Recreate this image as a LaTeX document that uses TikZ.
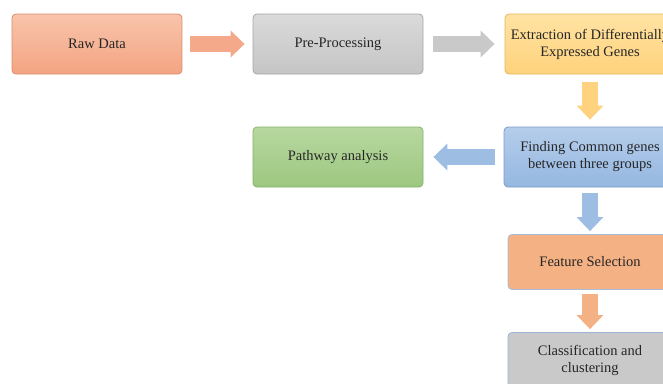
\documentclass[tikz,border=0pt]{standalone}
\usepackage{fontspec}
\setmainfont{Liberation Serif}
\usetikzlibrary{arrows.meta,calc}
\definecolor{txt}{HTML}{262626}
\definecolor{rawT}{HTML}{F8C4AB}\definecolor{rawB}{HTML}{F4A482}\definecolor{rawD}{HTML}{D98C6E}
\definecolor{preT}{HTML}{DADADA}\definecolor{preB}{HTML}{C5C5C5}\definecolor{preD}{HTML}{A6A6A6}
\definecolor{extT}{HTML}{FFE3A3}\definecolor{extB}{HTML}{FFD27C}\definecolor{extD}{HTML}{E0B860}
\definecolor{finT}{HTML}{B5CDEB}\definecolor{finB}{HTML}{95B7E0}\definecolor{finD}{HTML}{7C9CC8}
\definecolor{patT}{HTML}{B7D8A0}\definecolor{patB}{HTML}{9DC780}\definecolor{patD}{HTML}{85B26A}
\definecolor{feaF}{HTML}{F4B183}\definecolor{feaD}{HTML}{A9BCD8}
\definecolor{claF}{HTML}{C9C9C9}\definecolor{claD}{HTML}{9DB4D6}
\definecolor{arO}{HTML}{F4A98A}\definecolor{arG}{HTML}{C9C9C9}\definecolor{arY}{HTML}{FFD27F}
\definecolor{arB}{HTML}{9DBDE3}\definecolor{arF}{HTML}{F4B183}
\tikzset{
  box/.style={rectangle, rounded corners=4pt, line width=0.8pt, align=center,
    text=txt, font=\fontsize{14.5}{17}\selectfont, inner sep=2pt},
  blockarrow/.style={line width=16pt, -{Triangle[width=26pt,length=14pt]}, draw=#1},
}
\begin{document}
\begin{tikzpicture}[x=1pt,y=-1pt]
\useasboundingbox (0,0) rectangle (663,383);
\clip (0,0) rectangle (663,383);
\fill[white] (0,0) rectangle (663,383);
\node[box, minimum width=170pt, minimum height=60pt, draw=rawD, top color=rawT, bottom color=rawB] (raw) at (97,44) {Raw Data};
\node[box, minimum width=170pt, minimum height=60pt, draw=preD, top color=preT, bottom color=preB] (pre) at (338,44) {Pre-Processing};
\node[box, minimum width=170pt, minimum height=60pt, draw=extD, top color=extT, bottom color=extB] (ext) at (590,44) {Extraction of Differentially\\Expressed Genes};
\node[box, minimum width=172pt, minimum height=60pt, draw=finD, top color=finT, bottom color=finB] (fin) at (590,157) {Finding Common genes\\between three groups};
\node[box, minimum width=170pt, minimum height=60pt, draw=patD, top color=patT, bottom color=patB] (pat) at (338,157) {Pathway analysis};
\node[box, minimum width=164pt, minimum height=55pt, draw=feaD, fill=feaF] (fea) at (590,262) {Feature Selection};
\node[box, minimum width=164pt, minimum height=55pt, draw=claD, fill=claF] (cla) at (590,360) {Classification and\\clustering};
\draw[blockarrow=arO] ($(raw.east)+(8,0)$) -- ($(pre.west)+(-8,0)$);
\draw[blockarrow=arG] ($(pre.east)+(10,0)$) -- ($(ext.west)+(-10,0)$);
\draw[blockarrow=arY] ($(ext.south)+(0,8)$) -- ($(fin.north)+(0,-7)$);
\draw[blockarrow=arB] ($(fin.west)+(-9,0)$) -- ($(pat.east)+(10,0)$);
\draw[blockarrow=arB] ($(fin.south)+(0,6)$) -- ($(fea.north)+(0,-3)$);
\draw[blockarrow=arF] ($(fea.south)+(0,4)$) -- ($(cla.north)+(0,-3)$);
\end{tikzpicture}
\end{document}
